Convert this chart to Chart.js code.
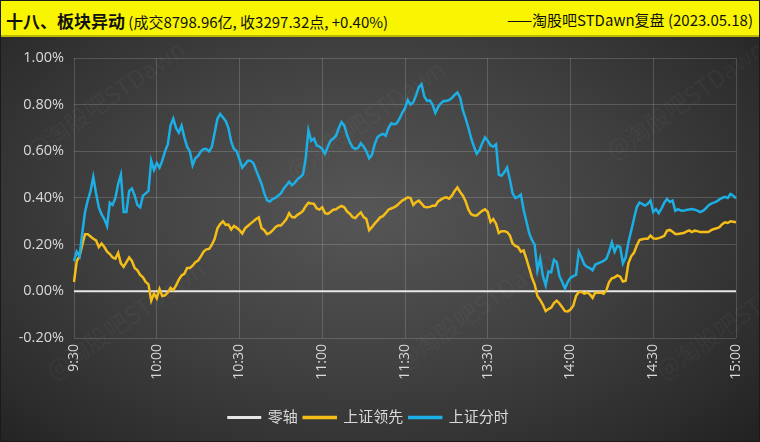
<!DOCTYPE html>
<html>
<head>
<meta charset="utf-8">
<script src="https://cdn.jsdelivr.net/npm/chart.js@4.4.1/dist/chart.umd.min.js"></script>
<style>
  html, body { margin: 0; padding: 0; }
  body { width: 760px; height: 442px; overflow: hidden; font-family: 'Open Sans', 'Noto Sans CJK SC', sans-serif; }
  #wrap { position: relative; width: 760px; height: 442px; box-sizing: border-box; border: 1px solid #1a1a1a;
    background: radial-gradient(ellipse 70% 75% at 48% 48%, #565656 0%, #424242 45%, #2c2c2c 85%, #222 100%); overflow: hidden; }
  #title { position: absolute; left: 0; top: 0; width: 760px; height: 36px; background: #f9f500; border-bottom: 2px solid #bdb800; box-sizing: border-box; }
  #tl { position: absolute; left: 5px; top: 7px; font-size: 15px; color: #111; white-space: nowrap; font-family: 'Noto Sans CJK SC', sans-serif; }
  #tl b { font-size: 17px; font-weight: 700; }
  #tr { position: absolute; right: 8px; top: 8px; font-size: 15px; color: #111; white-space: nowrap; font-family: 'Noto Sans CJK SC', sans-serif; }
  #box { position: absolute; left: 0; top: 37px; width: 760px; height: 405px; }
  .wm { position: absolute; color: rgba(255,255,255,0.045); font-size: 24px; transform: rotate(-35deg); white-space: nowrap; font-family: 'Noto Sans CJK SC', sans-serif; pointer-events: none; }
</style>
</head>
<body>
<div id="wrap">
  <div class="wm" style="left:10px;top:80px;">@淘股吧STDawn</div>
  <div class="wm" style="left:270px;top:100px;">@淘股吧STDawn</div>
  <div class="wm" style="left:590px;top:80px;">@淘股吧STDawn</div>
  <div class="wm" style="left:30px;top:300px;">@淘股吧STDawn</div>
  <div class="wm" style="left:380px;top:290px;">@淘股吧STDawn</div>
  <div class="wm" style="left:640px;top:300px;">@淘股吧STDawn</div>
  <div id="title">
    <div id="tl"><b>十八、板块异动</b> (成交8798.96亿, 收3297.32点, +0.40%)</div>
    <div id="tr">——淘股吧STDawn复盘 (2023.05.18)</div>
  </div>
  <div id="box"><canvas id="c" width="760" height="405"></canvas></div>
</div>
<script>
// Tick labels shown on the time axis
const tickLabels = ['9:30','10:00','10:30','11:00','11:30','13:30','14:00','14:30','15:00'];
// y-axis ticks (%)
const yTicks = [-0.2, 0, 0.2, 0.4, 0.6, 0.8, 1.0];

// Minute categories: 9:30-11:30, 13:01-15:00
function pad(n){ return (n < 10 ? '0' : '') + n; }
const times = [];
for (let m = 9*60+30; m <= 11*60+30; m++) times.push(Math.floor(m/60) + ':' + pad(m%60));
for (let m = 13*60+1; m <= 15*60; m++) times.push(Math.floor(m/60) + ':' + pad(m%60));

// 上证分时 (%), one value per minute
const shIndex = [
0.13,0.17,0.15,0.25,0.34,0.39,0.43,0.49,0.42,0.36,
0.33,0.31,0.28,0.38,0.37,0.40,0.46,0.50,0.34,0.34,
0.43,0.44,0.41,0.37,0.36,0.41,0.42,0.43,0.56,0.52,
0.55,0.53,0.56,0.60,0.63,0.71,0.74,0.70,0.68,0.71,
0.66,0.62,0.60,0.54,0.57,0.58,0.60,0.61,0.61,0.60,
0.62,0.68,0.74,0.76,0.745,0.73,0.70,0.64,0.61,0.60,
0.565,0.53,0.545,0.56,0.56,0.55,0.52,0.49,0.46,0.42,
0.39,0.385,0.395,0.40,0.41,0.42,0.44,0.455,0.47,0.455,
0.465,0.48,0.49,0.50,0.57,0.69,0.645,0.655,0.625,0.62,
0.61,0.59,0.62,0.645,0.655,0.667,0.70,0.725,0.71,0.67,
0.64,0.617,0.61,0.615,0.635,0.62,0.60,0.57,0.585,0.63,
0.66,0.67,0.675,0.667,0.70,0.72,0.715,0.72,0.74,0.765,
0.785,0.82,0.80,0.81,0.84,0.875,0.888,0.835,0.816,0.818,
0.80,0.765,0.79,0.806,0.816,0.816,0.82,0.828,0.842,0.852,
0.83,0.775,0.74,0.70,0.655,0.62,0.59,0.605,0.635,0.66,
0.645,0.625,0.62,0.63,0.50,0.495,0.51,0.53,0.48,0.42,
0.40,0.405,0.415,0.35,0.30,0.25,0.22,0.20,0.09,0.14,
0.065,0.026,0.085,0.082,0.135,0.125,0.065,0.04,0.012,0.04,
0.058,0.065,0.07,0.17,0.145,0.115,0.105,0.10,0.09,0.115,
0.12,0.125,0.13,0.14,0.17,0.21,0.17,0.195,0.19,0.12,
0.145,0.21,0.26,0.31,0.36,0.38,0.375,0.368,0.375,0.389,
0.34,0.352,0.335,0.355,0.38,0.396,0.383,0.389,0.345,0.352,
0.346,0.345,0.349,0.351,0.353,0.35,0.346,0.34,0.345,0.355,
0.368,0.376,0.38,0.385,0.394,0.40,0.405,0.40,0.417,0.41,
0.398
];

// 上证领先 (%), one value per minute
const shLead = [
0.04,0.13,0.15,0.20,0.245,0.245,0.235,0.225,0.218,0.19,
0.205,0.19,0.17,0.16,0.145,0.14,0.165,0.12,0.105,0.125,
0.145,0.13,0.10,0.09,0.07,0.06,0.04,0.03,-0.04,-0.01,
-0.03,0.01,-0.02,-0.017,-0.005,0.015,0.005,0.025,0.05,0.068,
0.075,0.10,0.10,0.11,0.125,0.132,0.15,0.17,0.18,0.182,
0.20,0.225,0.27,0.288,0.30,0.285,0.286,0.265,0.28,0.272,
0.262,0.248,0.27,0.28,0.29,0.30,0.31,0.317,0.27,0.262,
0.245,0.25,0.261,0.275,0.282,0.282,0.295,0.31,0.335,0.318,
0.317,0.328,0.335,0.345,0.365,0.38,0.376,0.375,0.355,0.35,
0.36,0.335,0.332,0.34,0.35,0.352,0.36,0.366,0.36,0.342,
0.333,0.318,0.314,0.328,0.338,0.318,0.31,0.262,0.275,0.29,
0.303,0.317,0.322,0.335,0.35,0.355,0.36,0.367,0.378,0.389,
0.395,0.403,0.40,0.37,0.382,0.389,0.376,0.362,0.36,0.362,
0.367,0.367,0.385,0.393,0.40,0.403,0.397,0.41,0.43,0.445,
0.425,0.41,0.385,0.35,0.33,0.325,0.325,0.335,0.345,0.352,
0.34,0.297,0.31,0.29,0.25,0.258,0.258,0.254,0.24,0.205,
0.195,0.19,0.17,0.175,0.14,0.10,0.06,0.03,-0.02,-0.037,
-0.058,-0.085,-0.076,-0.07,-0.05,-0.04,-0.052,-0.068,-0.085,-0.086,
-0.078,-0.062,-0.02,-0.003,-0.003,-0.01,-0.005,-0.012,-0.028,-0.005,
-0.006,-0.005,-0.01,0.005,0.04,0.056,0.06,0.068,0.063,0.042,
0.045,0.12,0.15,0.165,0.195,0.22,0.223,0.225,0.225,0.239,
0.227,0.225,0.228,0.232,0.238,0.26,0.263,0.255,0.246,0.246,
0.248,0.25,0.256,0.261,0.254,0.26,0.258,0.254,0.254,0.254,
0.254,0.262,0.267,0.27,0.275,0.288,0.296,0.293,0.30,0.298,
0.296
];

// 零轴: zero at the first and last minute
const zeroAxis = [{x: '9:30', y: 0}, {x: '15:00', y: 0}];

const tickColor = '#d9d9d9';
const gridColor = 'rgba(255,255,255,0.16)';
const fontFam = "'Open Sans', 'Noto Sans CJK SC', sans-serif";

new Chart(document.getElementById('c'), {
  type: 'line',
  data: {
    labels: times,
    datasets: [
      { label: '零轴', data: zeroAxis, borderColor: '#e6e6e6', backgroundColor: '#e6e6e6', borderWidth: 2, pointRadius: 0, order: 3 },
      { label: '上证领先', data: shLead, borderColor: '#f5bd17', backgroundColor: '#f5bd17', borderWidth: 2.5, pointRadius: 0, tension: 0, order: 2 },
      { label: '上证分时', data: shIndex, borderColor: '#1cafe6', backgroundColor: '#1cafe6', borderWidth: 2.5, pointRadius: 0, tension: 0, order: 1 }
    ]
  },
  options: {
    responsive: false,
    animation: false,
    layout: { padding: { left: 0, right: 25, top: 20, bottom: 8 } },
    plugins: {
      legend: {
        position: 'bottom',
        labels: { color: tickColor, font: { size: 15, family: fontFam }, boxWidth: 32, boxHeight: 1, padding: 6,
          sort: (a, b) => a.datasetIndex - b.datasetIndex }
      },
      tooltip: { enabled: false }
    },
    scales: {
      x: {
        offset: false,
        grid: { color: gridColor, lineWidth: 1, drawTicks: false },
        border: { display: false },
        ticks: {
          autoSkip: false, maxRotation: 90, minRotation: 90, padding: 6,
          color: tickColor, font: { size: 14, family: fontFam },
          callback: function(v, i) { const l = this.getLabelForValue(v); return tickLabels.includes(l) && (i % 30 === 0) ? l : null; }
        },
        afterFit: function(s) { s.height = 66; }
      },
      y: {
        min: -0.2, max: 1.0,
        grid: { color: gridColor, lineWidth: 1, drawTicks: false },
        border: { display: false },
        afterBuildTicks: function(s) { s.ticks = yTicks.map(v => ({ value: v })); },
        ticks: {
          padding: 10, color: tickColor, font: { size: 14.5, family: fontFam },
          callback: v => v.toFixed(2) + '%'
        },
        afterFit: function(s) { s.width = 73; }
      }
    }
  }
});
</script>
</body>
</html>
